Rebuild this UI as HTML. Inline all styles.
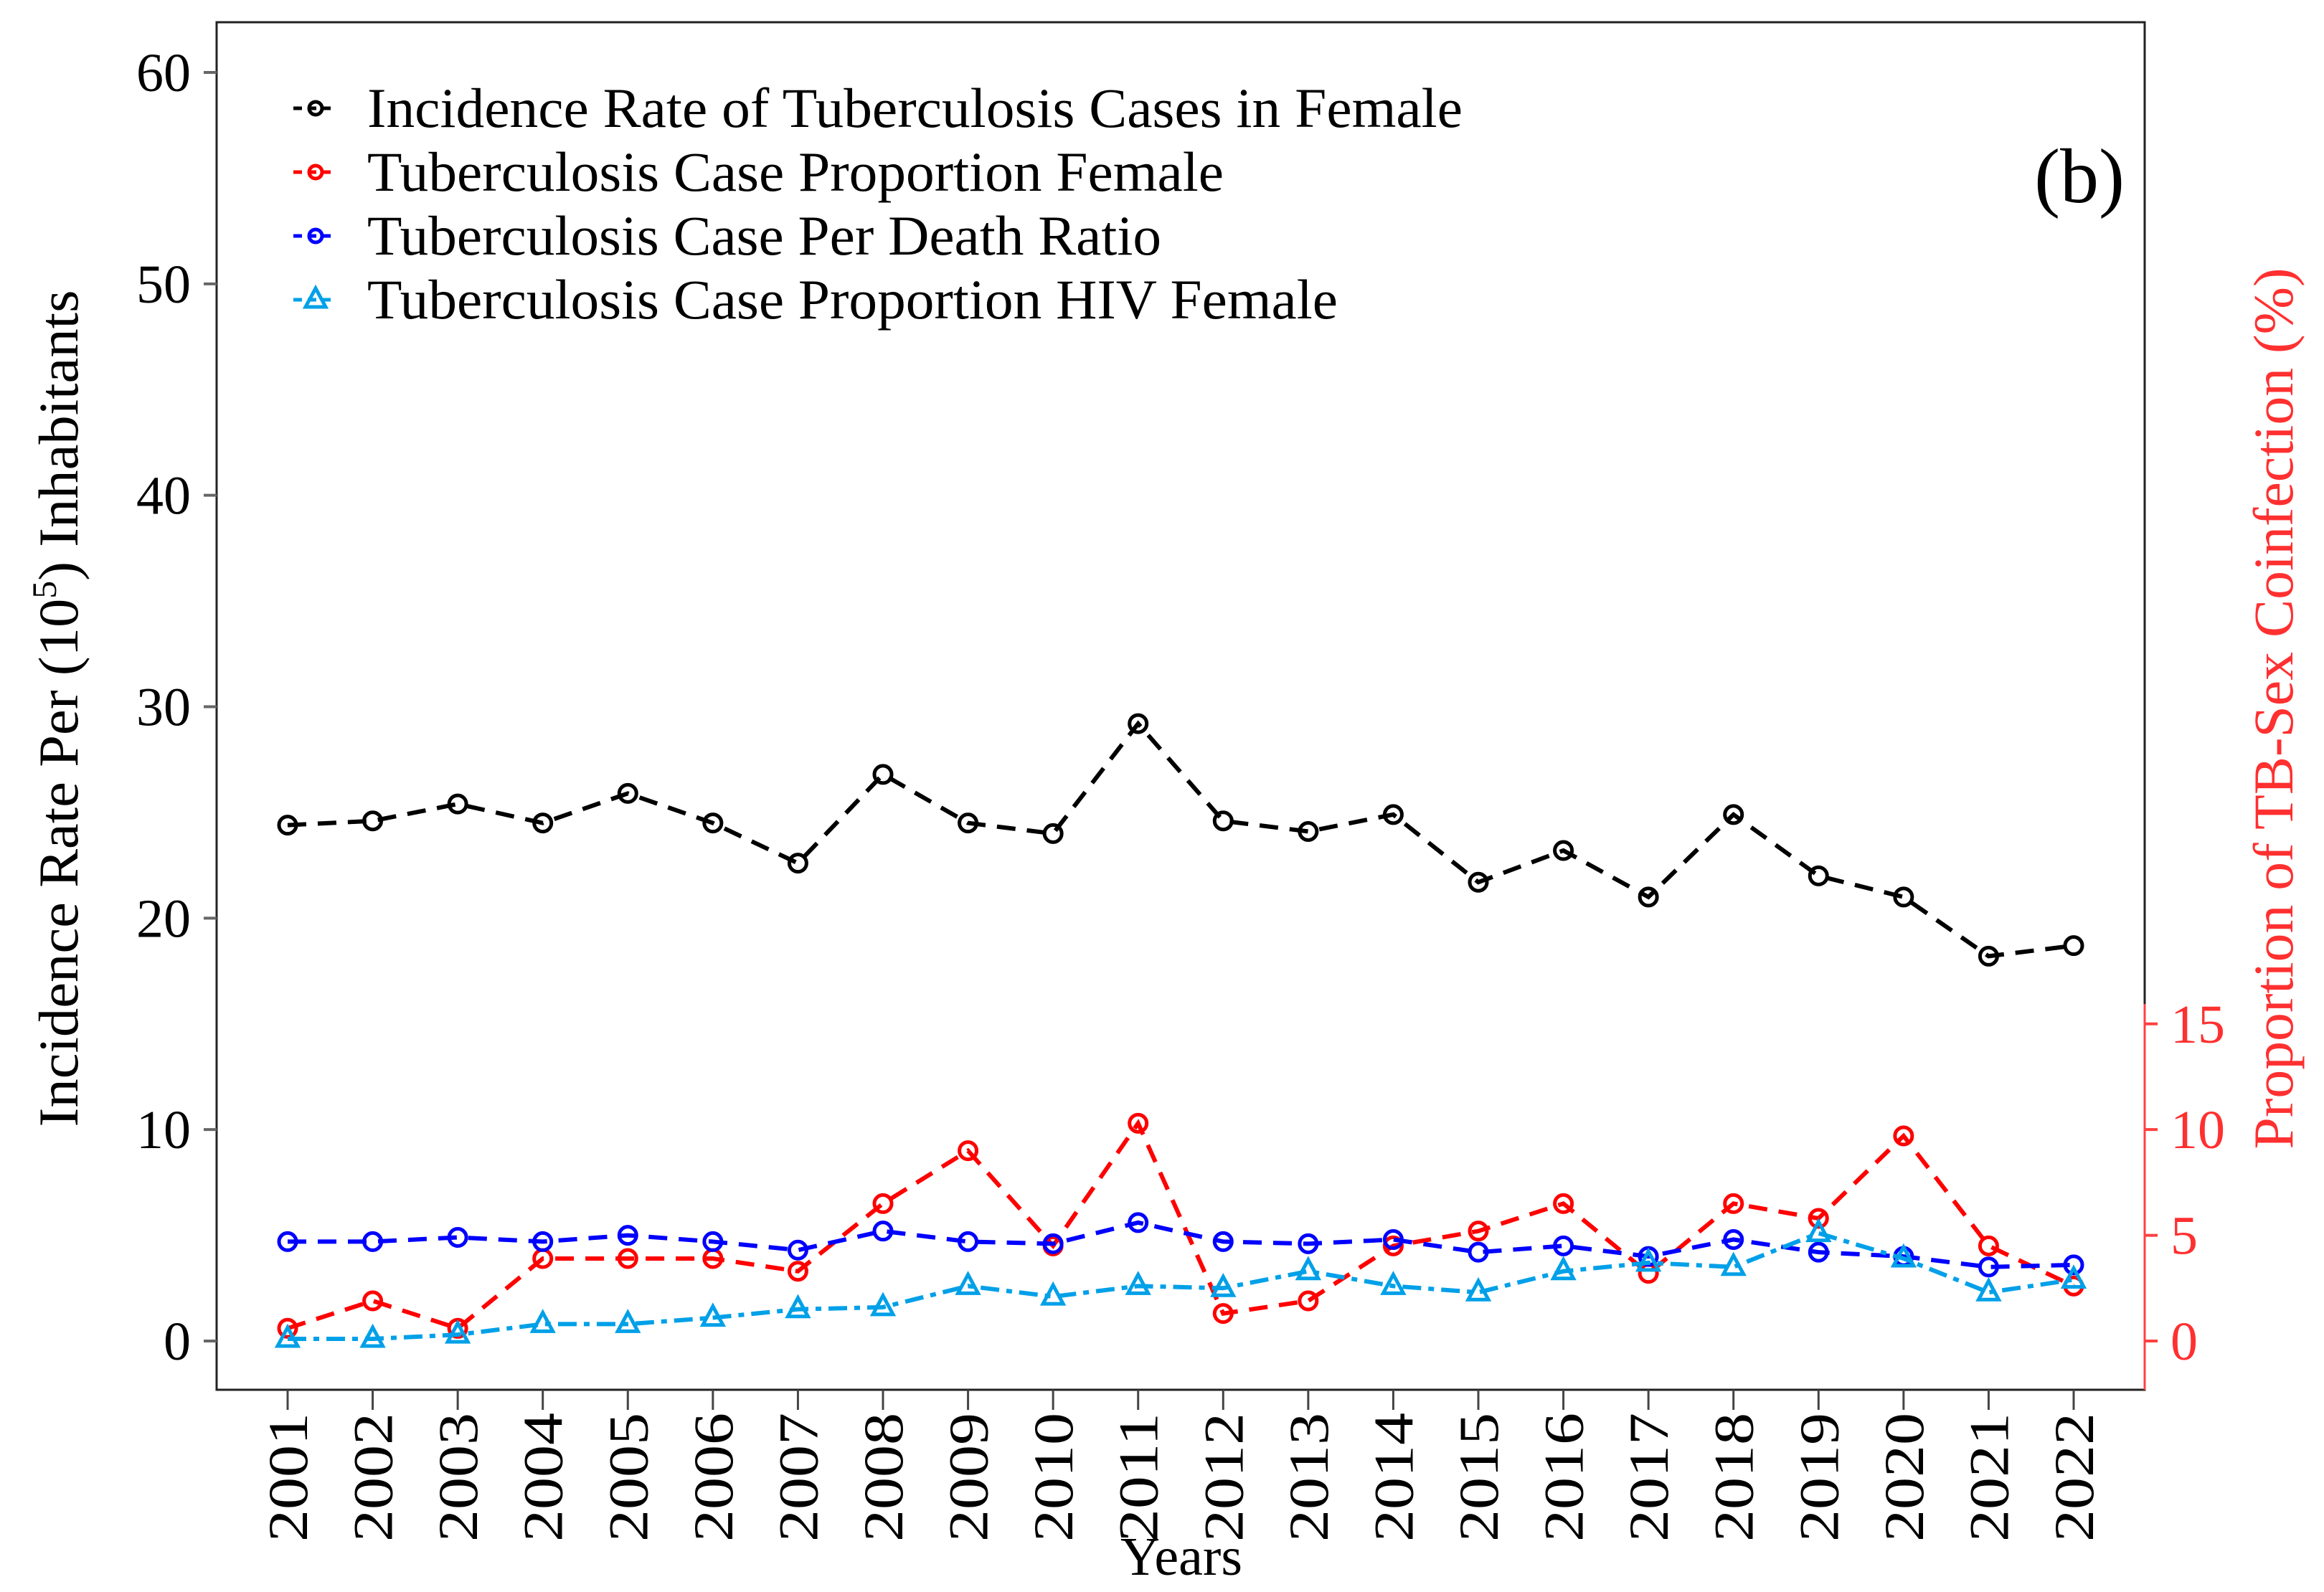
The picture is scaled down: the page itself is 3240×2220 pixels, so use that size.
<!DOCTYPE html>
<html><head><meta charset="utf-8"><style>
html,body{margin:0;padding:0;background:#fff;}
svg{display:block;font-family:"Liberation Serif",serif;}
</style></head><body>
<svg id="chart" width="3240" height="2220" viewBox="0 0 3240 2220" xmlns="http://www.w3.org/2000/svg">
<rect x="302" y="31" width="2688" height="1907" fill="none" stroke="#222" stroke-width="3"/>
<line x1="2990" y1="1400" x2="2990" y2="1938" stroke="#ff4040" stroke-width="3"/>
<g id="yticks"></g>
<g id="rticks"></g>
<g id="xticks"></g>
<g id="series"></g>
<text x="108" y="988" font-size="78" text-anchor="middle" textLength="1167" lengthAdjust="spacingAndGlyphs" transform="rotate(-90 108 988)">Incidence Rate Per (10<tspan font-size="48" dy="-30">5</tspan><tspan dy="30">) Inhabitants</tspan></text>
<text x="3196" y="988" font-size="78" fill="#ff3030" text-anchor="middle" textLength="1229" lengthAdjust="spacingAndGlyphs" transform="rotate(-90 3196 988)">Proportion of TB-Sex Coinfection (%)</text>
<text x="1647" y="2196" font-size="76" text-anchor="middle" textLength="170" lengthAdjust="spacingAndGlyphs">Years</text>
<text x="2962" y="282" font-size="108" text-anchor="end">(b)</text>
<g id="legend"></g>
</svg>
<script>
const years = [2001,2002,2003,2004,2005,2006,2007,2008,2009,2010,2011,2012,2013,2014,2015,2016,2017,2018,2019,2020,2021,2022];
const incidence = [24.4,24.6,25.4,24.5,25.9,24.5,22.6,26.8,24.5,24.0,29.2,24.6,24.1,24.9,21.7,23.2,21.0,24.9,22.0,21.0,18.2,18.7];
const propFemale = [0.6,1.9,0.6,3.9,3.9,3.9,3.3,6.5,9.0,4.5,10.3,1.3,1.9,4.5,5.2,6.5,3.2,6.5,5.8,9.7,4.5,2.6];
const perDeath = [4.7,4.7,4.9,4.7,5.0,4.7,4.3,5.2,4.7,4.6,5.6,4.7,4.6,4.8,4.2,4.5,4.0,4.8,4.2,4.0,3.5,3.6];
const propHIV = [0.1,0.1,0.3,0.8,0.8,1.1,1.5,1.6,2.6,2.1,2.6,2.5,3.3,2.6,2.3,3.3,3.7,3.5,5.1,3.9,2.3,2.9];
const leftTicks = [0,10,20,30,40,50,60];
const rightTicks = [0,5,10,15];
const legendLabels = ["Incidence Rate of Tuberculosis Cases in Female","Tuberculosis Case Proportion Female","Tuberculosis Case Per Death Ratio","Tuberculosis Case Proportion HIV Female"];
const legendWidths = [1527,1194,1107,1353];

const NS="http://www.w3.org/2000/svg";
function xs(i){return 401 + i*(2891-401)/(years.length-1);}
function ys(v){return 1870 - v*(1870-101)/60;}
function mk(tag,attrs,parent){const e=document.createElementNS(NS,tag);for(const k in attrs)e.setAttribute(k,attrs[k]);parent.appendChild(e);return e;}

const yg=document.getElementById('yticks');
leftTicks.forEach(v=>{
  const t=mk('line',{x1:284,x2:302,y1:ys(v),y2:ys(v),stroke:'#666','stroke-width':4},yg);
  
  
  const l=mk('text',{x:266,y:ys(v)+26,'font-size':76,'text-anchor':'end'},yg);
  l.textContent=v;
  
  
});
const rg=document.getElementById('rticks');
rightTicks.forEach(v=>{
  const t=mk('line',{x1:2990,x2:3008,y1:ys(v),y2:ys(v),stroke:'#ff4040','stroke-width':4},rg);
  
  
  const l=mk('text',{x:3026,y:ys(v)+26,'font-size':76,fill:'#ff3030'},rg);
  l.textContent=v;
  
  
});
const xg=document.getElementById('xticks');
years.forEach((y,i)=>{
  const x=xs(i);
  const t=mk('line',{x1:x,x2:x,y1:1938,y2:1966,stroke:'#444','stroke-width':3},xg);
  
  
  const l=mk('text',{x:x+27,y:1970,'font-size':78,'text-anchor':'end',textLength:180,lengthAdjust:'spacingAndGlyphs',transform:`rotate(-90 ${x+27} 1970)`},xg);
  l.textContent=y;
  
  
});
const sg=document.getElementById('series');
const cfg=[
  {d:incidence,c:'#000',dash:'26,16',tri:false,name:'incidence'},
  {d:propFemale,c:'#ff0000',dash:'26,16',tri:false,name:'proportion-female'},
  {d:perDeath,c:'#0000ff',dash:'26,16',tri:false,name:'per-death-ratio'},
  {d:propHIV,c:'#00a0e8',dash:'26,10,8,10',tri:true,name:'proportion-hiv'}
];
function marker(x,y,s,parent){
  if(s.tri){
    return mk('polygon',{points:`${x},${y-16} ${x-14},${y+10} ${x+14},${y+10}`,fill:'none',stroke:s.c,'stroke-width':5},parent);
  }
  return mk('circle',{cx:x,cy:y,r:12,fill:'none',stroke:s.c,'stroke-width':5},parent);
}
cfg.forEach(s=>{
  const pts=s.d.map((v,i)=>xs(i)+','+ys(v)).join(' ');
  const pl=mk('polyline',{points:pts,fill:'none',stroke:s.c,'stroke-width':6,'stroke-dasharray':s.dash},sg);
  
  
  s.d.forEach((v,i)=>{
    const m=marker(xs(i),ys(v),s,sg);
    
    
  });
});
const lg=document.getElementById('legend');
cfg.forEach((s,i)=>{
  const y=151+i*89;
  const ln=mk('line',{x1:409,x2:465,y1:y,y2:y,stroke:s.c,'stroke-width':5,'stroke-dasharray':'12,8'},lg);
  
  
  const m=marker(440,y,s,lg);
  m.setAttribute('r',9);
  
  
  const t=mk('text',{x:512,y:y+26,'font-size':78,textLength:legendWidths[i],lengthAdjust:'spacingAndGlyphs'},lg);
  t.textContent=legendLabels[i];
  
  
});
</script>
</body></html>
